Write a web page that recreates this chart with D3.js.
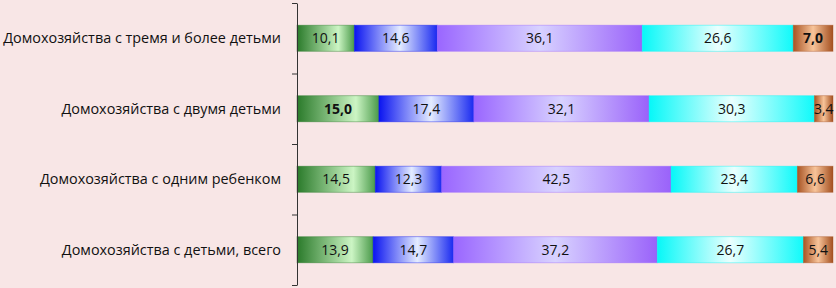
<!DOCTYPE html>
<html>
<head>
<meta charset="utf-8">
<script src="https://cdn.jsdelivr.net/npm/d3@7"></script>
<style>
  html, body { margin: 0; padding: 0; background: #f8e6e6; }
  svg { display: block; }
  text { font-family: "Open Sans", "Noto Sans", sans-serif; fill: #111; }
</style>
</head>
<body>
<svg id="chart" width="836" height="288"></svg>
<script>
// categories, top to bottom
const CATEGORIES = [
    "Домохозяйства с тремя и более детьми",
    "Домохозяйства с двумя детьми",
    "Домохозяйства с одним ребенком",
    "Домохозяйства с детьми, всего",
];
const SERIES_KEYS = ["s1", "s2", "s3", "s4", "s5"];
const S1 = [10.1, 15.0, 14.5, 13.9];
const S2 = [14.6, 17.4, 12.3, 14.7];
const S3 = [36.1, 32.1, 42.5, 37.2];
const S4 = [26.6, 30.3, 23.4, 26.7];
const S5 = [7.0, 3.4, 6.6, 5.4];
// labels shown bold in the source
const BOLD = [["s5", 0], ["s1", 1]];

// gradient stops per series: left edge, light, right edge, peak offset
const FILLS = {
    s1: { a: "#2a7a2a", b: "#ccf5c4", c: "#4a9a4a", peak: 0.72 },
    s2: { a: "#0a14f0", b: "#e4ecff", c: "#1a2af0", peak: 0.55 },
    s3: { a: "#9a66ff", b: "#d8d2ff", c: "#9a62fa", peak: 0.5 },
    s4: { a: "#06f8f8", b: "#eafffe", c: "#10fafa", peak: 0.5 },
    s5: { a: "#a85424", b: "#f8c49a", c: "#a45020", peak: 0.5 },
};

const margin = { top: 3, right: 3, bottom: 3, left: 297 };
const W = 836, H = 288;

const rows = CATEGORIES.map((c, i) => ({
    cat: c, s1: S1[i], s2: S2[i], s3: S3[i], s4: S4[i], s5: S5[i],
}));

const svg = d3.select("#chart");

// ── Gradients ───────────────────────────────────────────────────────────────
const defs = svg.append("defs");
SERIES_KEYS.forEach(k => {
    const f = FILLS[k];
    const g = defs.append("linearGradient").attr("id", "grad-" + k)
        .attr("x1", "0%").attr("x2", "100%").attr("y1", "0%").attr("y2", "0%");
    g.append("stop").attr("offset", 0).attr("stop-color", f.a);
    g.append("stop").attr("offset", f.peak).attr("stop-color", f.b);
    g.append("stop").attr("offset", 1).attr("stop-color", f.c);
});

// ── Scales ──────────────────────────────────────────────────────────────────
const x = d3.scaleLinear().domain([0, 1]).range([margin.left, W - margin.right]);
const y = d3.scaleBand().domain(CATEGORIES)
    .range([margin.top, H - margin.bottom])
    .paddingInner(0.63).paddingOuter(0.315);

const stack = d3.stack().keys(SERIES_KEYS).offset(d3.stackOffsetExpand);
const layers = stack(rows);

// ── Bars ────────────────────────────────────────────────────────────────────
const layerG = svg.append("g").selectAll("g")
    .data(layers).join("g")
    .attr("fill", d => `url(#grad-${d.key})`);

layerG.selectAll("rect")
    .data(d => d.map(p => ({ p, key: d.key })))
    .join("rect")
    .attr("x", d => x(d.p[0]))
    .attr("y", d => y(d.p.data.cat))
    .attr("width", d => x(d.p[1]) - x(d.p[0]))
    .attr("height", y.bandwidth())
    .attr("stroke", d => FILLS[d.key].a)
    .attr("stroke-opacity", 0.5)
    .attr("stroke-width", 0.8);

// value labels
const fmt = v => d3.format(".1f")(v).replace(".", ",");
layerG.selectAll("text.val")
    .data(d => d.map((p, i) => ({ p, key: d.key, i })))
    .join("text")
    .attr("class", "val")
    .attr("x", d => (x(d.p[0]) + x(d.p[1])) / 2)
    .attr("y", d => y(d.p.data.cat) + y.bandwidth() / 2)
    .attr("dy", "0.36em")
    .attr("text-anchor", "middle")
    .attr("font-size", 14)
    .attr("font-weight", d => BOLD.some(b => b[0] === d.key && b[1] === d.i) ? "bold" : null)
    .text(d => fmt(d.p.data[d.key]));

// ── Axis ────────────────────────────────────────────────────────────────────
const yTicks = d3.scaleLinear().domain([0, CATEGORIES.length])
    .range([margin.top, H - margin.bottom]);
const axis = svg.append("g")
    .attr("transform", `translate(${margin.left},0)`)
    .call(d3.axisLeft(yTicks).ticks(CATEGORIES.length).tickSize(5)
        .tickSizeOuter(0).tickFormat(""));
axis.selectAll("path, line").attr("stroke", "#333");

// category labels
svg.append("g").selectAll("text")
    .data(CATEGORIES).join("text")
    .attr("x", margin.left - 16)
    .attr("y", d => y(d) + y.bandwidth() / 2)
    .attr("dy", "0.36em")
    .attr("text-anchor", "end")
    .attr("font-size", 14.4)
    .text(d => d);
</script>
</body>
</html>
